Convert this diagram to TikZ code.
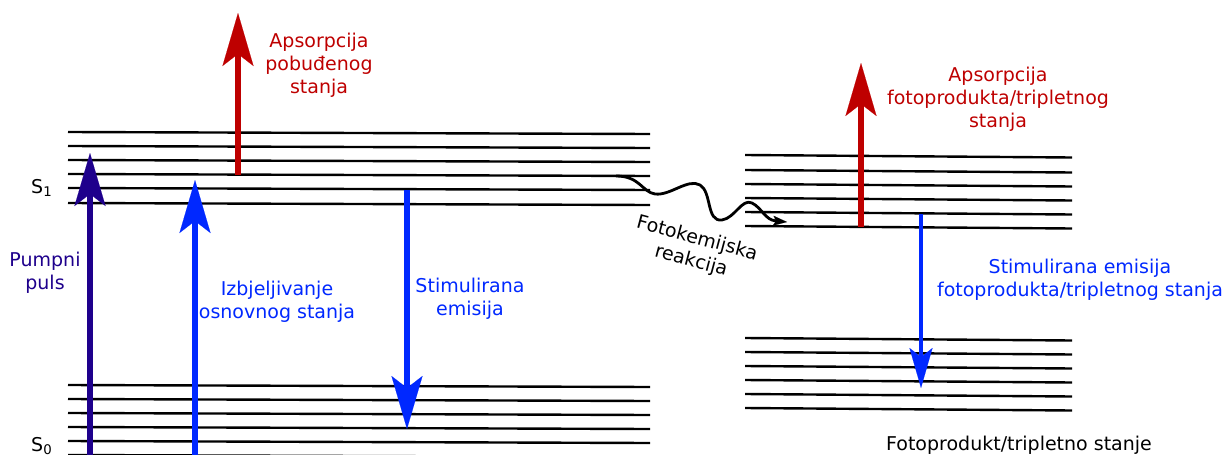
\documentclass[tikz,border=0pt]{standalone}
\usepackage{fontspec}
\setmainfont{DejaVu Sans}
\usetikzlibrary{arrows.meta}
\definecolor{pumpcol}{RGB}{30,0,140}
\definecolor{bluecol}{RGB}{0,40,255}
\definecolor{redcol}{RGB}{190,0,0}
\begin{document}
\begin{tikzpicture}[x=1pt,y=-1pt,
  level/.style={line width=2.4pt,black},
  bigtip/.style={-{Stealth[length=53pt,width=31pt,inset=12pt,line width=0.1pt]}},
  pumparrow/.style={bigtip,line width=6pt,pumpcol},
  bluearrow/.style={bigtip,line width=6pt,bluecol},
  redarrow/.style={bigtip,line width=6.5pt,redcol},
  smallblue/.style={-{Stealth[length=40pt,width=23pt,inset=9pt,line width=0.1pt]},line width=4.7pt,bluecol},
  wavy/.style={-{Stealth[length=14pt,width=10pt,inset=3pt,line width=0.1pt]},line width=2.8pt,black},
  lbl/.style={font=\fontsize{19}{23}\selectfont,align=center,inner sep=0pt}]
\useasboundingbox (0,0) rectangle (1226,455);
% energy levels
\foreach \y in {132,146,160,174,188,203} \draw[level] (68,\y) -- (650,\y+2);
\foreach \y in {385,399,413,427,441,455} \draw[level] (68,\y) -- (650,\y+2);
\foreach \y in {155,170,184,198,212,226} \draw[level] (745,\y) -- (1072,\y+2.5);
\foreach \y in {338,352,366,380,394,408} \draw[level] (745,\y) -- (1072,\y+2.5);
% state labels
\node[lbl,anchor=base west] (s1) at (31,193) {S\textsubscript{1}};
\node[lbl,anchor=base west] (s0) at (31,451) {S\textsubscript{0}};
% arrow end points
\coordinate (pumpA) at (90,462);
\coordinate (pumpB) at (90,153);
\coordinate (bleA) at (195,462);
\coordinate (bleB) at (195,180);
\coordinate (esaA) at (238,175);
\coordinate (esaB) at (238,13);
\coordinate (seA) at (407,190);
\coordinate (seB) at (407,429);
\coordinate (paA) at (861,227);
\coordinate (paB) at (861,63);
\coordinate (pseA) at (921,214);
\coordinate (pseB) at (921,388);
\coordinate (rxA) at (616,176);
\coordinate (rxB) at (787,222);
% arrows
\draw[pumparrow] (pumpA) -- (pumpB);
\draw[bluearrow] (bleA) -- (bleB);
\draw[redarrow] (esaA) -- (esaB);
\draw[bluearrow] (seA) -- (seB);
\draw[redarrow] (paA) -- (paB);
\draw[smallblue] (pseA) -- (pseB);
\draw[wavy] (rxA) .. controls (640,176) and (642,192) .. (655,194)
  .. controls (670,196) and (688,178) .. (700,185)
  .. controls (712,192) and (706,222) .. (722,220)
  .. controls (735,218) and (742,198) .. (752,203)
  .. controls (762,208) and (765,220) .. (rxB);
% labels
\node[lbl,pumpcol] (lpump) at (45,273) {Pumpni\\puls};
\node[lbl,bluecol] (lble) at (277,302) {Izbjeljivanje\\osnovnog stanja};
\node[lbl,bluecol] (lse) at (470,299) {Stimulirana\\emisija};
\node[lbl,redcol] (lesa) at (319,65) {Apsorpcija\\pobuđenog\\stanja};
\node[lbl,redcol] (lpa) at (998,99) {Apsorpcija\\fotoprodukta/tripletnog\\stanja};
\node[lbl,bluecol] (lpse) at (1080,280) {Stimulirana emisija\\fotoprodukta/tripletnog stanja};
\node[lbl,anchor=base] (lfp) at (1019,450) {Fotoprodukt/tripletno stanje};
\node[lbl,rotate=-15] (lrx) at (694,250) {Fotokemijska\\reakcija};
\end{tikzpicture}
\end{document}
